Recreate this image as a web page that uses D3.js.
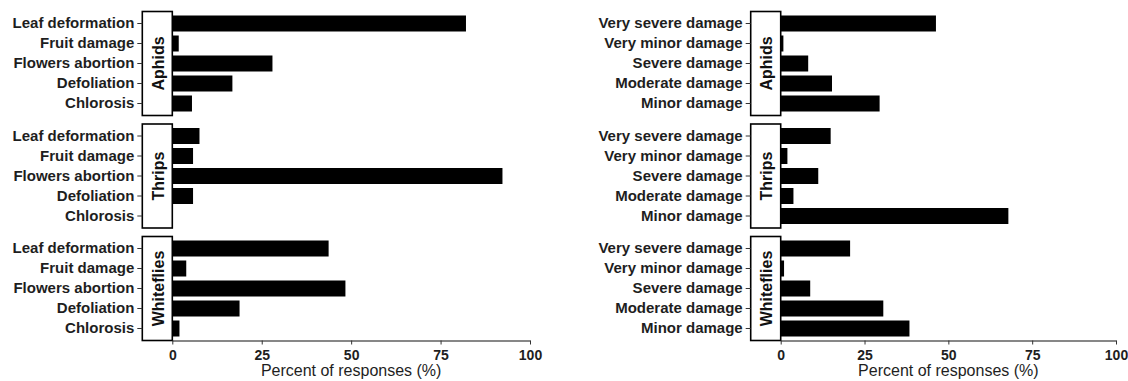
<!DOCTYPE html>
<html>
<head>
<meta charset="utf-8">
<script src="https://cdn.jsdelivr.net/npm/d3@7/dist/d3.min.js"></script>
<style>
  html, body { margin: 0; padding: 0; background: #fff; }
  svg { display: block; }
  .ylab { font-family: "Liberation Sans", Arial, sans-serif; font-weight: bold; font-size: 15px; fill: #1e1e1e; }
  .xtick text { font-family: "Liberation Sans", Arial, sans-serif; font-weight: bold; font-size: 14px; fill: #1e1e1e; }
  .strip-text { font-family: "Liberation Sans", Arial, sans-serif; font-weight: bold; font-size: 16px; fill: #111; }
  .xtitle { font-family: "Liberation Sans", Arial, sans-serif; font-size: 16px; fill: #1e1e1e; }
</style>
</head>
<body>
<svg id="chart" width="1128" height="381"></svg>
<script>
// Pest groups (facet rows)
const pests = ["Aphids", "Thrips", "Whiteflies"];

// Left chart: symptoms reported, percent of responses
const symptoms = ["Leaf deformation", "Fruit damage", "Flowers abortion", "Defoliation", "Chlorosis"];
const symptomAphids = [82.1, 1.8, 28.0, 16.8, 5.5];
const symptomThrips = [7.6, 5.8, 92.3, 5.8, 0];
const symptomWhiteflies = [43.7, 3.9, 48.4, 18.8, 2.0];

// Right chart: perceived damage level, percent of responses
const damageLevels = ["Very severe damage", "Very minor damage", "Severe damage", "Moderate damage", "Minor damage"];
const damageAphids = [46.3, 0.8, 8.2, 15.3, 29.5];
const damageThrips = [14.9, 2.0, 11.2, 3.8, 67.9];
const damageWhiteflies = [20.7, 1.0, 8.8, 30.6, 38.4];

const xTicks = [0, 25, 50, 75, 100];
const xTitle = "Percent of responses (%)";

const svg = d3.select("#chart");

// facet row geometry
const rowTop = [11.5, 124, 236.5];
const rowH = 104;
const stripW = 30;

function drawChart(cfg) {
  const g = svg.append("g");
  const x = d3.scaleLinear().domain([0, 100]).range([cfg.x0, cfg.x1]);
  const bottom = rowTop[rowTop.length - 1] + rowH;

  cfg.series.forEach((vals, i) => {
    const top = rowTop[i];
    const y = d3.scaleBand()
      .domain(cfg.categories)
      .range([top, top + rowH])
      .paddingInner(0.2)
      .paddingOuter(0.2);

    // bars
    g.append("g").selectAll("rect")
      .data(cfg.categories.map((c, k) => ({ c, v: vals[k] })))
      .join("rect")
      .attr("x", x(0))
      .attr("y", d => y(d.c))
      .attr("width", d => Math.max(0, x(d.v) - x(0)))
      .attr("height", y.bandwidth())
      .attr("fill", "#000");

    // strip box with pest name
    const sx = cfg.x0 - stripW;
    g.append("rect")
      .attr("x", sx)
      .attr("y", top)
      .attr("width", stripW)
      .attr("height", rowH)
      .attr("fill", "#fff")
      .attr("stroke", "#000")
      .attr("stroke-width", 1.6);
    g.append("text")
      .attr("class", "strip-text")
      .attr("transform", `translate(${sx + stripW / 2 + 1},${top + rowH / 2}) rotate(-90)`)
      .attr("text-anchor", "middle")
      .attr("dominant-baseline", "central")
      .text(pests[i]);

    // y axis on the outer side of the strip
    const ya = d3.axisLeft(y).tickSize(5).tickPadding(3);
    const yg = g.append("g")
      .attr("transform", `translate(${sx},0)`)
      .call(ya);
    yg.select(".domain").remove();
    yg.selectAll("line").attr("stroke", "#333").attr("stroke-width", 1);
    yg.selectAll("text").attr("class", "ylab").attr("font-size", null).attr("font-family", null).attr("fill", null);
  });

  // x axis
  const xa = d3.axisBottom(x).tickValues(xTicks).tickSize(4).tickSizeOuter(0).tickPadding(6);
  const xg = g.append("g")
    .attr("class", "xtick")
    .attr("transform", `translate(0,${bottom})`)
    .call(xa);
  xg.select(".domain").attr("stroke", "#111").attr("stroke-width", 1.2);
  xg.selectAll("line").attr("stroke", "#333");
  xg.selectAll("text").attr("font-size", null).attr("font-family", null);

  g.append("text")
    .attr("class", "xtitle")
    .attr("x", (cfg.x0 + cfg.x1) / 2)
    .attr("y", 376)
    .attr("text-anchor", "middle")
    .text(xTitle);
}

drawChart({
  x0: 172.3, x1: 530,
  categories: symptoms,
  series: [symptomAphids, symptomThrips, symptomWhiteflies]
});

drawChart({
  x0: 780.7, x1: 1116,
  categories: damageLevels,
  series: [damageAphids, damageThrips, damageWhiteflies]
});
</script>
</body>
</html>
